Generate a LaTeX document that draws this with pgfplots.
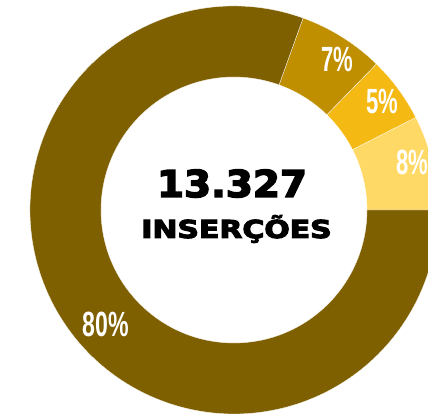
\documentclass[border=0pt]{standalone}
\usepackage{fontspec}
\setmainfont{Liberation Sans}
\newfontfamily\heavy{DejaVu Sans}[BoldFeatures={FakeBold=4}]
\usepackage{graphicx}
\usepackage{pgfplots}
\usepackage{pgfplotstable}
\pgfplotsset{compat=1.18}
\definecolor{c1}{HTML}{7F6000}
\definecolor{c2}{HTML}{BF8F00}
\definecolor{c3}{HTML}{F5B914}
\definecolor{c4}{HTML}{FFD966}

% shares (percent of the ring), counter-clockwise from 3 o'clock
\pgfplotstableread{
share label
7.5 8
5.2 5
6.8 7
80.5 80
}\donutdata

\newcommand\seg[3]{\fill[#3, draw=white, line width=0.3pt]
  ([shift={(#1:204pt)}]axis cs:234,204) arc[start angle=#1,end angle=#2,radius=204pt]
  -- ([shift={(#2:133pt)}]axis cs:234,204) arc[start angle=#2,end angle=#1,radius=133pt] -- cycle;}
\newcommand\lab[1]{\scalebox{0.63}[1]{\fontsize{35}{35}\selectfont\bfseries #1}}

\begin{document}
\begin{tikzpicture}
\pgfplotstablegetelem{0}{share}\of\donutdata \pgfmathsetmacro\aA{3.6*\pgfplotsretval}
\pgfplotstablegetelem{1}{share}\of\donutdata \pgfmathsetmacro\aB{\aA+3.6*\pgfplotsretval}
\pgfplotstablegetelem{2}{share}\of\donutdata \pgfmathsetmacro\aC{\aB+3.6*\pgfplotsretval}
\pgfplotstablegetelem{3}{share}\of\donutdata \pgfmathsetmacro\aD{\aC+3.6*\pgfplotsretval}
\begin{axis}[name=ax, width=428pt, height=414pt, scale only axis,
  xmin=0, xmax=428, ymin=0, ymax=414, hide axis, clip=true]
\seg{0}{\aA}{c4}
\seg{\aA}{\aB}{c3}
\seg{\aB}{\aC}{c2}
\seg{\aC}{\aD}{c1}
\node[text=white, inner sep=0] at (axis cs:412,251.5) {\lab{8\%}};
\node[text=white, inner sep=0] at (axis cs:382,312.5) {\lab{5\%}};
\node[text=white, inner sep=0] at (axis cs:337,354.5) {\lab{7\%}};
\node[text=white, inner sep=0] at (axis cs:106,89.5) {\scalebox{0.66}[1]{\fontsize{35}{35}\selectfont\bfseries 80\%}};
\node[inner sep=0, anchor=base] at (axis cs:232,217) {\scalebox{1.05}[1]{\heavy\bfseries\fontsize{37}{37}\selectfont 13.327}};
\node[inner sep=0, anchor=base] at (axis cs:236.5,176) {\scalebox{1.21}[1]{\heavy\bfseries\fontsize{24.7}{25}\selectfont INSERÇÕES}};
\end{axis}
\pgfresetboundingbox
\useasboundingbox (ax.south west) rectangle (ax.north east);
\end{tikzpicture}
\end{document}
